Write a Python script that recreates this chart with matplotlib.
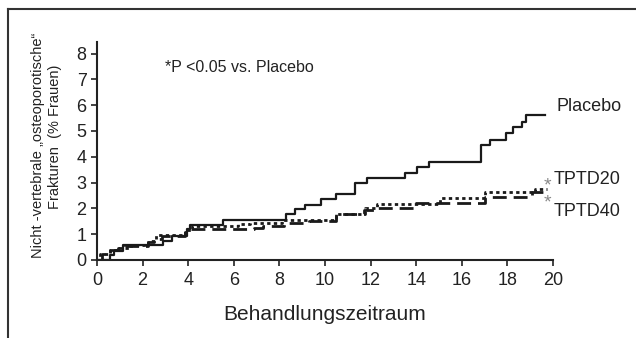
import matplotlib
matplotlib.use("Agg")
import matplotlib.pyplot as plt
from matplotlib.lines import Line2D

plt.rcParams['font.family'] = ['Liberation Sans', 'DejaVu Sans']

# Kaplan-Meier style cumulative curves (months, % women)
placebo_x = [0, 0.57, 0.75, 1.15, 2.9, 3.27, 3.95, 4.1, 5.54, 8.3, 8.7, 9.12, 9.81,
             10.48, 11.32, 11.83, 13.5, 14.02, 14.58, 16.84, 17.24, 17.94, 18.26,
             18.63, 18.82, 19.65]
placebo_y = [0, 0.19, 0.34, 0.57, 0.74, 0.93, 1.19, 1.36, 1.55, 1.77, 1.96, 2.15, 2.35,
             2.56, 2.97, 3.16, 3.39, 3.59, 3.81, 4.46, 4.65, 4.91, 5.14,
             5.36, 5.62, 5.62]

tptd20_x = [0, 0.15, 0.57, 0.92, 1.5, 2.24, 2.6, 3.85, 4.15, 6.2, 6.7, 8.1, 10.5,
            11.75, 12.27, 15.04, 17.02, 19.2, 19.72]
tptd20_y = [0, 0.23, 0.39, 0.48, 0.6, 0.75, 0.95, 1.15, 1.32, 1.38, 1.45, 1.55, 1.77,
            2.0, 2.17, 2.39, 2.62, 2.74, 2.74]

tptd40_x = [0, 0.2, 0.57, 0.92, 1.23, 2.24, 2.5, 2.84, 3.85, 4.0, 6.9, 7.3, 8.2, 9.3,
            10.5, 11.7, 12.3, 13.9, 17.02, 19.06, 19.65]
tptd40_y = [0, 0.23, 0.39, 0.48, 0.56, 0.71, 0.83, 0.94, 1.1, 1.19, 1.25, 1.32, 1.42, 1.5,
            1.77, 1.95, 2.0, 2.2, 2.43, 2.65, 2.65]

xticks = list(range(0, 21, 2))
yticks = list(range(0, 9))

fig = plt.figure(figsize=(6.36, 3.38), dpi=100)
ax = fig.add_axes([0.1525, 0.2308, 0.717, 0.645])

ink = '#1a1a1a'
ax.plot(placebo_x, placebo_y, drawstyle='steps-post', color=ink, lw=1.6)
ax.plot(tptd20_x, tptd20_y, drawstyle='steps-post', color=ink, lw=2.0, ls=(0, (1.2, 1.2)))
ax.plot(tptd40_x, tptd40_y, drawstyle='steps-post', color=ink, lw=2.0, ls=(0, (5, 2.5)))

ax.set_xlim(0, 20)
ax.set_ylim(0, 8.45)
ax.set_xticks(xticks)
ax.set_yticks(yticks)
for s in ['top', 'right']:
    ax.spines[s].set_visible(False)
for s in ['left', 'bottom']:
    ax.spines[s].set_linewidth(1.5)
    ax.spines[s].set_color('#222222')
ax.tick_params(axis='both', direction='out', length=4, width=1.2, colors='#222222',
               labelsize=13)
ax.tick_params(axis='y', pad=3.5)
ax.tick_params(axis='x', pad=4.5)

# labels
fig.text(38 / 636, 1 - 145 / 338, 'Nicht -vertebrale \u201eosteoporotische\u201c',
         rotation=90, ha='center', va='center', fontsize=10.5, color='#222222')
fig.text(55 / 636, 1 - 137 / 338, 'Frakturen  (% Frauen)',
         rotation=90, ha='center', va='center', fontsize=10.5, color='#222222')
fig.text(325 / 636, 1 - 315 / 338, 'Behandlungszeitraum', ha='center', va='center',
         fontsize=15, color='#222222')
fig.text(165 / 636, 1 - 67 / 338, '*P <0.05 vs. Placebo', ha='left', va='center',
         fontsize=11.5, color='#222222')

fig.text(556 / 636, 1 - 107 / 338, 'Placebo', ha='left', va='center', fontsize=13,
         color='#222222')
fig.text(554 / 636, 1 - 179 / 338, 'TPTD20', ha='left', va='center', fontsize=13,
         color='#222222')
fig.text(554 / 636, 1 - 212 / 338, 'TPTD40', ha='left', va='center', fontsize=13,
         color='#222222')
fig.text(547 / 636, 1 - 186 / 338, '*', ha='center', va='center', fontsize=14,
         color='#888888')
fig.text(547 / 636, 1 - 203 / 338, '*', ha='center', va='center', fontsize=14,
         color='#888888')

# page frame (top and left edge)
fig.add_artist(Line2D([8 / 636, 1.0], [1 - 9 / 338, 1 - 9 / 338], color='#333333', lw=1.5))
fig.add_artist(Line2D([8 / 636, 8 / 636], [0, 1 - 9 / 338], color='#333333', lw=1.5))

fig.savefig('out.png', dpi=100)
